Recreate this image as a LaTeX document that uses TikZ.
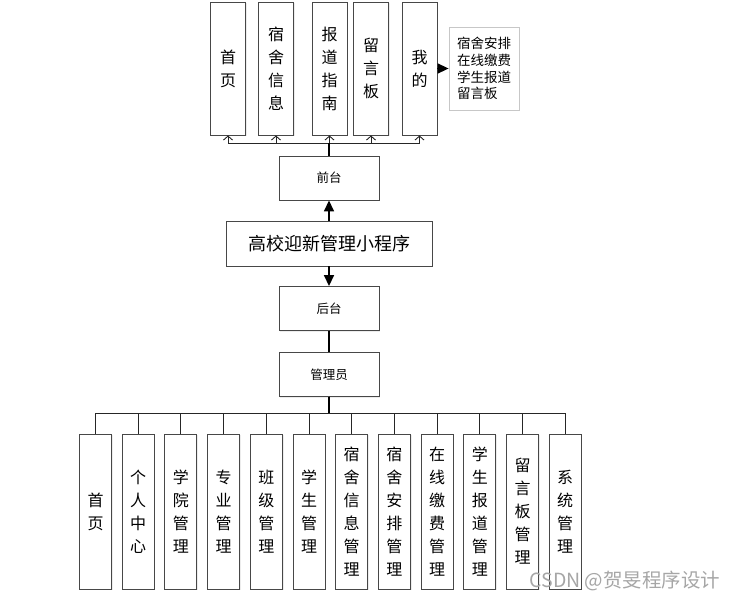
\documentclass[tikz,border=0pt]{standalone}
\usepackage{fontspec}
\setmainfont{Noto Sans CJK SC}
\usetikzlibrary{arrows.meta,positioning,shadows}

\begin{document}
\begin{tikzpicture}[x=1pt, y=-1pt,
  font=\fontsize{16}{23}\selectfont,
  box/.style={draw=black!72, line width=0.9pt, fill=white, inner sep=0pt, align=center, drop shadow={opacity=0.15, shadow xshift=1.2pt, shadow yshift=-1.2pt}},
  colbox/.style={box, minimum width=35pt, minimum height=133pt},
  subbox/.style={box, minimum width=32pt, minimum height=155pt},
  tagbox/.style={box, minimum width=100pt, minimum height=44pt, font=\fontsize{12.5}{14}\selectfont},
  notebox/.style={draw=black!22, line width=0.8pt, fill=white, inner sep=0pt, minimum width=70pt, minimum height=83pt, align=left, font=\fontsize{13.5}{16.7}\selectfont, drop shadow={opacity=0.12, shadow xshift=1.2pt, shadow yshift=-1.2pt}},
  link/.style={draw=black!85, line width=0.9pt},
  stem/.style={draw=black, line width=1.8pt},
  uparr/.style={link, -{Straight Barb[length=4pt, width=9pt]}},
  bigarr/.style={draw=black, line width=1.6pt, -{Triangle[length=11pt, width=10pt]}}
]
\useasboundingbox (0,0) rectangle (734,598);
% front end pages
\node[colbox] (h1) at (228,68.5) {首\\页};
\node[colbox] (h2) at (276,68.5) {宿\\舍\\信\\息};
\node[colbox] (h3) at (329.5,68.5) {报\\道\\指\\南};
\node[colbox] (h4) at (371,68.5) {留\\言\\板};
\node[colbox] (h5) at (419.5,68.5) {我\\的};
\node[notebox] (note) at (484,68.5) {宿舍安排\\在线缴费\\学生报道\\留言板};
% middle column
\node[tagbox] (front) at (329,178) {前台};
\node[box, minimum width=206pt, minimum height=45pt, font=\fontsize{18}{20}\selectfont] (app) at (329,243.5) {高校迎新管理小程序};
\node[tagbox] (back) at (329,308.5) {后台};
\node[tagbox] (admin) at (329,374.5) {管理员};
% back end modules
\foreach \i/\t in {1/{首\\页}, 2/{个\\人\\中\\心}, 3/{学\\院\\管\\理}, 4/{专\\业\\管\\理},
  5/{班\\级\\管\\理}, 6/{学\\生\\管\\理}, 7/{宿\\舍\\信\\息\\管\\理}, 8/{宿\\舍\\安\\排\\管\\理},
  9/{在\\线\\缴\\费\\管\\理}, 10/{学\\生\\报\\道\\管\\理}, 11/{留\\言\\板\\管\\理}, 12/{系\\统\\管\\理}}
  \node[subbox] (b\i) at ({95.5+42.7*(\i-1)},511.5) {\t};
\coordinate (tbus) at (329,143);
\coordinate (bbus) at (329,413);
\node[anchor=base west, text=black!35, font=\fontsize{19.5}{20}\selectfont] (mark) at (526,587) {CSDN @贺旻程序设计};
% connectors
\foreach \n in {h1,h2,h3,h4,h5}
  \draw[uparr] (front.north) -- (front.north |- tbus) -| (\n.south);
\draw[stem] (front.north) -- (front.north |- tbus);
\draw[bigarr] (h5.east) -- (note.west);
\draw[bigarr] (app.north) -- (front.south);
\draw[bigarr] (app.south) -- (back.north);
\draw[stem, line width=1.3pt] (back.south) -- (admin.north);
\foreach \i in {1,...,12}
  \draw[link] (admin.south) -- (admin.south |- bbus) -| (b\i.north);
\draw[stem] (admin.south) -- (admin.south |- bbus);
\end{tikzpicture}
\end{document}
